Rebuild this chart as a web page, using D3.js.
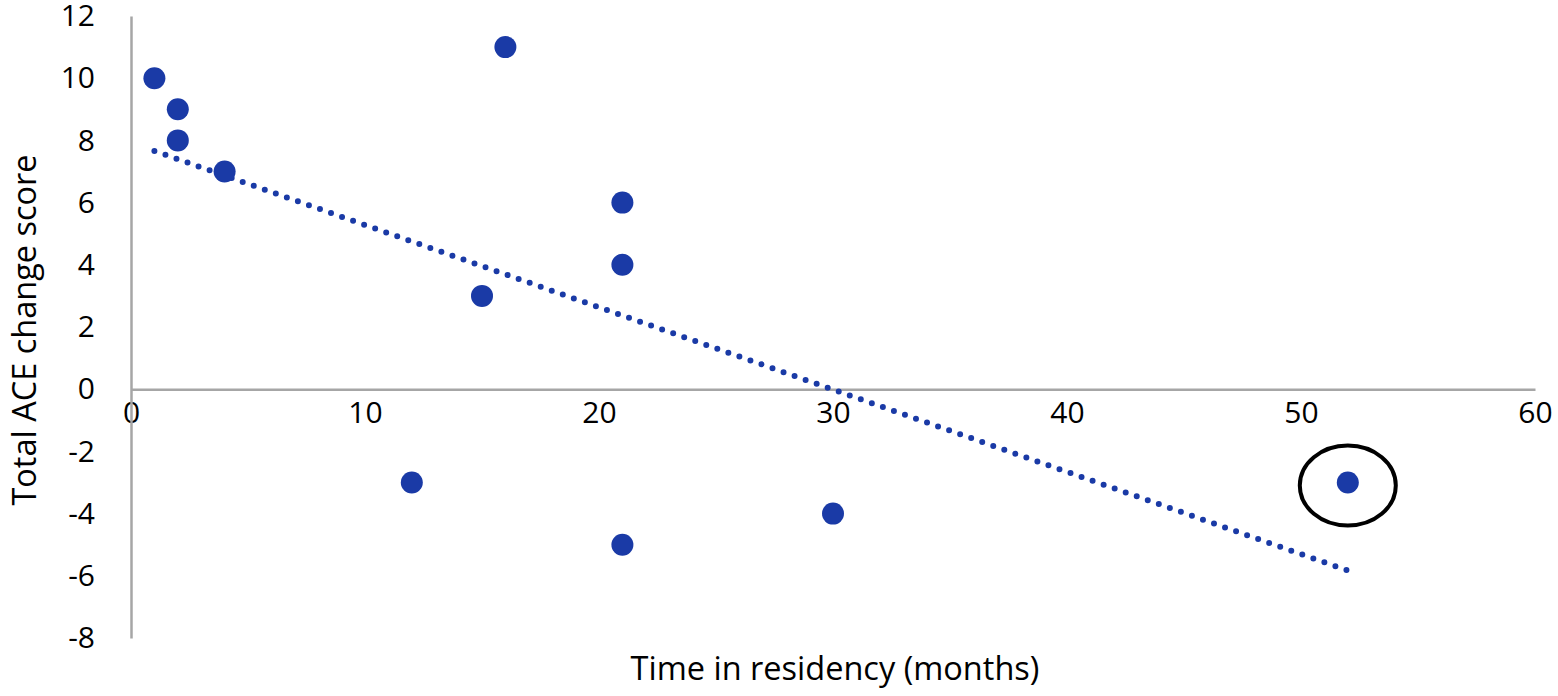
<!DOCTYPE html>
<html>
<head>
<meta charset="utf-8">
<script src="https://cdn.jsdelivr.net/npm/d3@7"></script>
<style>
  body { margin: 0; background: #fff; }
  text { font-family: "Open Sans", sans-serif; fill: #000; }
</style>
</head>
<body>
<div id="chart"></div>
<script>
// data
var months = [1, 2, 2, 4, 16, 21, 21, 15, 12, 21, 30, 52];
var aceChange = [10, 9, 8, 7, 11, 6, 4, 3, -3, -5, -4, -3];
var xTicks = [0, 10, 20, 30, 40, 50, 60];
var yTicks = [-8, -6, -4, -2, 0, 2, 4, 6, 8, 10, 12];
var circledIndex = 11;

var width = 1558, height = 696;

var svg = d3.select('#chart').append('svg')
    .attr('width', width)
    .attr('height', height);

var x = d3.scaleLinear().domain([0, 60]).range([131, 1535]);
var y = d3.scaleLinear().domain([-8, 12]).range([638, 16]);

// plain hyphen minus, as in the original
var fmt = function(d) { return String(d); };

// axes
var xAxis = svg.append('g')
    .attr('transform', 'translate(0,' + y(0) + ')')
    .call(d3.axisBottom(x).tickValues(xTicks).tickFormat(fmt).tickSize(0).tickPadding(13));
var yAxis = svg.append('g')
    .attr('transform', 'translate(' + x(0) + ',0)')
    .call(d3.axisLeft(y).tickValues(yTicks).tickFormat(fmt).tickSize(0).tickPadding(36));

[xAxis, yAxis].forEach(function(g) {
  g.select('.domain').attr('stroke', '#a6a6a6').attr('stroke-width', 2.5);
  g.selectAll('text').style('font-size', '30px').style('font-family', '"Open Sans", sans-serif').attr('fill', '#000');
});

// linear trendline (least squares, like Excel)
var mx = d3.mean(months), my = d3.mean(aceChange);
var sxy = d3.sum(months, function(d, i) { return (d - mx) * (aceChange[i] - my); });
var sxx = d3.sum(months, function(d) { return (d - mx) * (d - mx); });
var slope = sxy / sxx, intercept = my - slope * mx;
var xmin = d3.min(months), xmax = d3.max(months);

svg.append('line')
    .attr('x1', x(xmin)).attr('y1', y(intercept + slope * xmin))
    .attr('x2', x(xmax)).attr('y2', y(intercept + slope * xmax))
    .attr('stroke', '#1a3aa6')
    .attr('stroke-width', 6)
    .attr('stroke-linecap', 'round')
    .attr('stroke-dasharray', '0 11.7');

// points
svg.selectAll('circle.pt')
    .data(months)
    .enter().append('circle')
    .attr('class', 'pt')
    .attr('cx', function(d) { return x(d); })
    .attr('cy', function(d, i) { return y(aceChange[i]); })
    .attr('r', 11)
    .attr('fill', '#1a3aa6');

// highlight ring round the last point
svg.append('ellipse')
    .attr('cx', x(months[circledIndex]))
    .attr('cy', y(aceChange[circledIndex]) + 3)
    .attr('rx', 48)
    .attr('ry', 40)
    .attr('fill', 'none')
    .attr('stroke', '#000')
    .attr('stroke-width', 4);

// axis titles
svg.append('text')
    .attr('x', (x(0) + x(60)) / 2 + 2)
    .attr('y', 680)
    .attr('text-anchor', 'middle')
    .style('font-size', '32.5px')
    .text('Time in residency (months)');

svg.append('text')
    .attr('transform', 'translate(36,' + 330 + ') rotate(-90)')
    .attr('text-anchor', 'middle')
    .style('font-size', '32.5px')
    .text('Total ACE change score');
</script>
</body>
</html>
